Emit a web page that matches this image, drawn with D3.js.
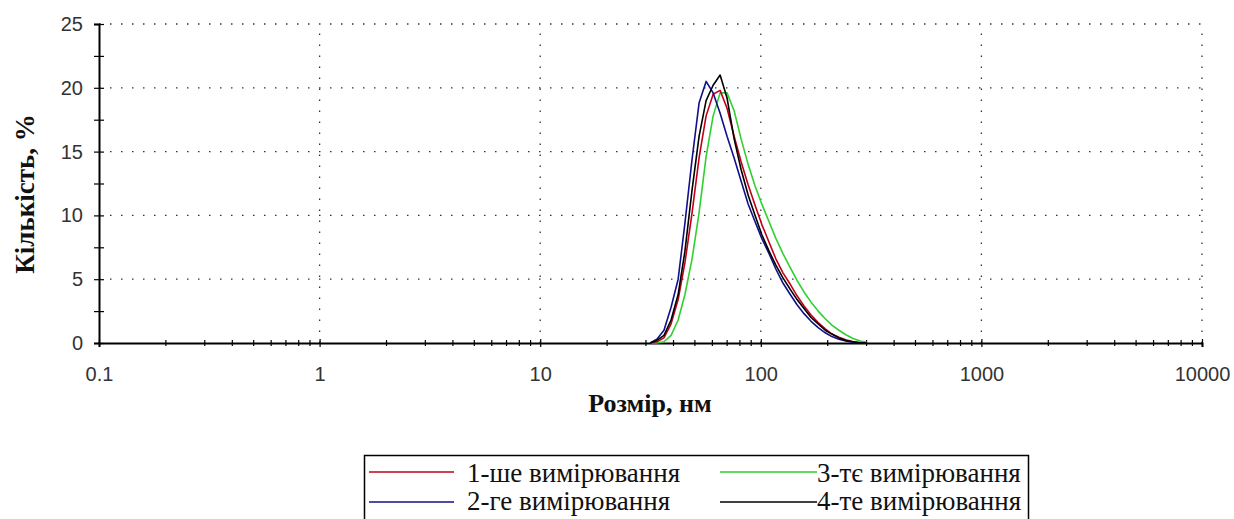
<!DOCTYPE html>
<html><head><meta charset="utf-8">
<script src="https://cdn.jsdelivr.net/npm/d3@7"></script>
<style>body{margin:0;background:#fff}svg{display:block}</style>
</head><body>
<svg id="c" width="1234" height="519"></svg>
<script>
const sizes = [31.5,33.8,36.4,39.2,42.2,45.3,48.8,52.5,56.5,60.8,65.4,70.3,75.7,81.4,87.6,94.2,101,109,117,126,136,146,157,169,182,196,210,226,243,262,282,303];
const meas1 = [0,0.1,0.4,1.5,3.4,6.3,10.2,14.5,17.8,19.5,19.8,18.4,16.2,14.2,12.4,10.8,9.3,7.9,6.6,5.5,4.6,3.7,2.9,2.2,1.6,1.1,0.7,0.45,0.25,0.1,0.03,0];
const meas2 = [0,0.3,1.0,2.8,5.0,9.4,14.4,18.8,20.5,19.6,18.0,16.2,14.5,12.7,10.9,9.5,8.2,7.0,5.8,4.7,3.8,3.0,2.3,1.7,1.2,0.8,0.5,0.3,0.15,0.05,0,0];
const meas3 = [0,0,0.1,0.6,1.8,3.8,6.6,10.2,14.6,17.8,19.6,19.6,18.2,16.0,14.0,12.3,10.9,9.5,8.2,7.0,5.9,4.9,4.0,3.2,2.5,1.9,1.4,1.0,0.65,0.35,0.15,0.05];
const meas4 = [0,0.2,0.6,1.8,3.8,7.2,12.0,16.2,19.0,20.2,21.0,19.2,16.0,13.6,11.6,10.0,8.5,7.2,6.1,5.1,4.2,3.4,2.7,2.0,1.5,1.0,0.7,0.4,0.2,0.1,0,0];
const seriesNames = ["1-ше вимірювання","2-ге вимірювання","3-тє вимірювання","4-те вимірювання"];
const xMajor = [0.1,1,10,100,1000,10000];
const xMajorLabels = ["0.1","1","10","100","1000","10000"];
const yMajor = [0,5,10,15,20,25];
const yMinor = [2.5,7.5,12.5,17.5,22.5];
const xTitle = "Розмір, нм";
const yTitle = "Кількість, %";

const colors = ["#c0001a","#10108a","#30d030","#000000"];
const allSeries = [meas1, meas2, meas3, meas4];
const SERIF = '"Liberation Serif","Times New Roman",serif';
const SANS = '"Liberation Sans",Arial,sans-serif';

const svg = d3.select("#c");
const x = d3.scaleLog().domain([0.1,10000]).range([99,1202]);
const y = d3.scaleLinear().domain([0,25]).range([343,24]);

// grid
const g = svg.append("g");
g.selectAll(".hg").data(yMajor.filter(v=>v>0)).join("line")
  .attr("x1",99).attr("x2",1202).attr("y1",d=>y(d)).attr("y2",d=>y(d))
  .attr("stroke","#333").attr("stroke-width",1.3).attr("stroke-dasharray","1.5,9.5");
g.selectAll(".vg").data(xMajor.filter(v=>v>0.1)).join("line")
  .attr("y1",343).attr("y2",24).attr("x1",d=>x(d)).attr("x2",d=>x(d))
  .attr("stroke","#333").attr("stroke-width",1.3).attr("stroke-dasharray","1.5,9.5");

// minor x ticks
const xMinor = [];
[0.1,1,10,100,1000].forEach(d=>{for(let k=2;k<=9;k++) xMinor.push(d*k);});

const ax = svg.append("g").attr("transform","translate(0,343)")
  .call(d3.axisBottom(x).tickValues(xMajor).tickFormat((d,i)=>xMajorLabels[i]).tickSizeOuter(0).tickSize(4).tickPadding(23));
ax.selectAll(".tick line").attr("y1",-4).attr("y2",4).attr("stroke","#000").attr("stroke-width",1.2);
const axm = svg.append("g").attr("transform","translate(0,343)")
  .call(d3.axisBottom(x).tickValues(xMinor).tickFormat("").tickSizeOuter(0).tickSize(4));
axm.selectAll(".tick line").attr("y1",-3).attr("y2",3).attr("stroke","#000").attr("stroke-width",1.2);
axm.select(".domain").remove();
ax.select(".domain").attr("stroke","#000").attr("stroke-width",2);
ax.selectAll("text").style("font-family",SANS).style("font-size","20px").attr("fill","#333").attr("dy","0.35em").attr("y",31);

const ay = svg.append("g").attr("transform","translate(99,0)")
  .call(d3.axisLeft(y).tickValues(yMajor).tickSizeOuter(0).tickSize(5).tickPadding(11));
ay.selectAll(".tick line").attr("x1",-5).attr("x2",5).attr("stroke","#000").attr("stroke-width",1.2);
ay.select(".domain").attr("stroke","#000").attr("stroke-width",2);
ay.selectAll("text").style("font-family",SANS).style("font-size","20px").attr("fill","#333");
const aym = svg.append("g").attr("transform","translate(99,0)")
  .call(d3.axisLeft(y).tickValues(yMinor).tickFormat("").tickSizeOuter(0).tickSize(5));
aym.selectAll(".tick line").attr("x1",-5).attr("x2",5).attr("stroke","#000").attr("stroke-width",1.2);
aym.select(".domain").remove();

// lines
const line = d3.line().x((d,i)=>x(sizes[i])).y(d=>y(d));
[2,0,1,3].forEach(k=>{
  svg.append("path").datum(allSeries[k]).attr("d",line)
    .attr("fill","none").attr("stroke",colors[k]).attr("stroke-width",1.6).attr("stroke-linejoin","round");
});

// titles
svg.append("text").attr("x",650).attr("y",412).attr("text-anchor","middle")
  .style("font-family",SERIF).style("font-weight","bold").style("font-size","26px")
  .attr("fill","#111").text(xTitle);
svg.append("text").attr("transform","translate(34,194) rotate(-90)").attr("text-anchor","middle")
  .style("font-family",SERIF).style("font-weight","bold").style("font-size","27px")
  .attr("fill","#111").text(yTitle);

// legend
const lg = svg.append("g");
lg.append("rect").attr("x",364.5).attr("y",455.5).attr("width",664).attr("height",80)
  .attr("fill","none").attr("stroke","#000").attr("stroke-width",1.5);
const legPos = [
  {lx1:369,lx2:454,tx:467,y:472,ty:482},
  {lx1:369,lx2:454,tx:467,y:502,ty:510},
  {lx1:720,lx2:817,tx:817,y:472,ty:482},
  {lx1:720,lx2:817,tx:817,y:502,ty:510}
];
seriesNames.forEach((n,i)=>{
  const p = legPos[i];
  lg.append("line").attr("x1",p.lx1).attr("x2",p.lx2).attr("y1",p.y).attr("y2",p.y)
    .attr("stroke",colors[i]).attr("stroke-width",1.6);
  lg.append("text").attr("x",p.tx).attr("y",p.ty)
    .style("font-family",SERIF).style("font-size","27px")
    .attr("fill","#111").text(n);
});
</script>
</body></html>
